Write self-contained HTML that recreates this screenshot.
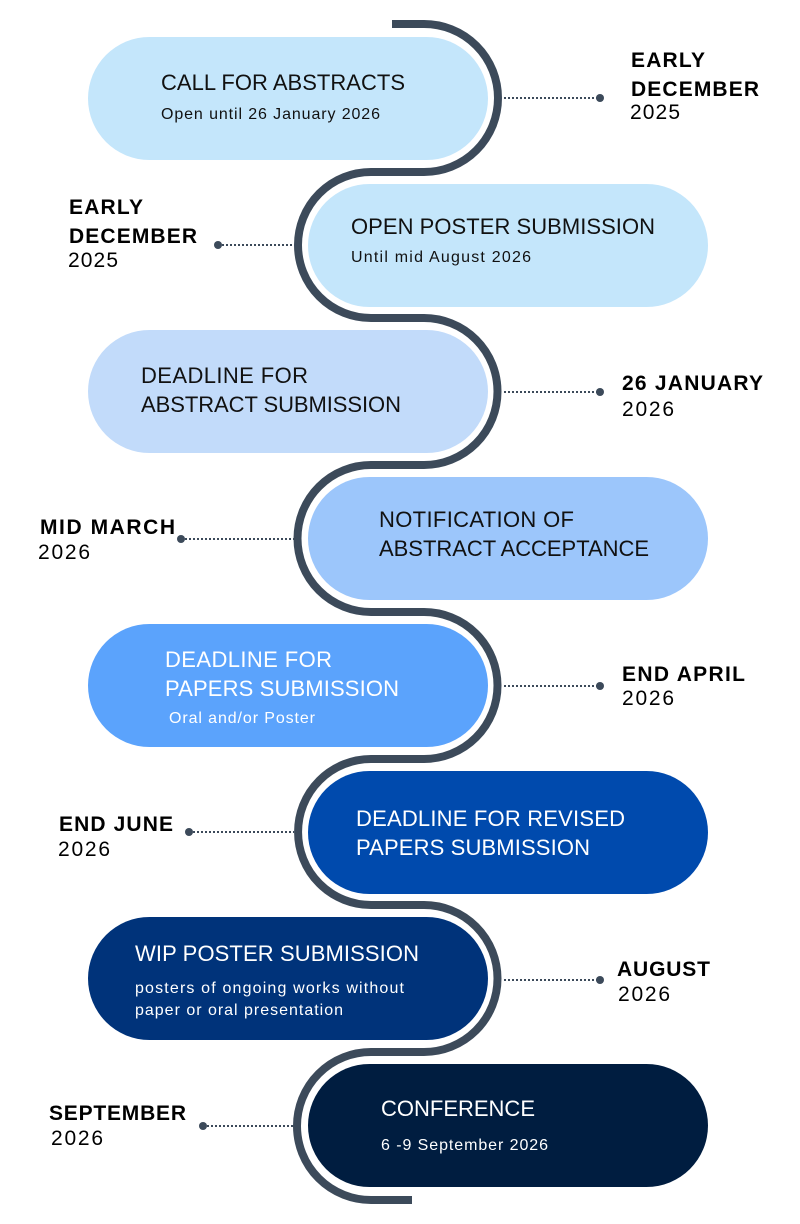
<!DOCTYPE html>
<html><head><meta charset="utf-8"><style>
html,body{margin:0;padding:0;background:#fff}
svg{display:block}
text{font-family:"Liberation Sans",sans-serif}
.t{font-size:22px}
.s{font-size:16px}
.b{font-size:21px;font-weight:bold;fill:#000}
.r{font-size:21px;fill:#000}
</style></head><body>
<svg width="800" height="1224" viewBox="0 0 800 1224" xmlns="http://www.w3.org/2000/svg">
<rect width="800" height="1224" fill="#fff"/>
<rect x="88" y="37" width="400" height="123" rx="61.5" fill="#c4e6fb"/>
<rect x="308" y="184" width="400" height="123" rx="61.5" fill="#c4e6fb"/>
<rect x="88" y="330" width="400" height="123" rx="61.5" fill="#c2dbfa"/>
<rect x="308" y="477" width="400" height="123" rx="61.5" fill="#9cc6fb"/>
<rect x="88" y="624" width="400" height="123" rx="61.5" fill="#5ba3fc"/>
<rect x="308" y="771" width="400" height="123" rx="61.5" fill="#004aad"/>
<rect x="88" y="917" width="400" height="123" rx="61.5" fill="#00337a"/>
<rect x="308" y="1064" width="400" height="123" rx="61.5" fill="#001d40"/>
<path d="M392,24 H424 A74,74 0 0 1 424,172 H371 A73,73 0 0 0 371,318 H424 A73.5,73.5 0 0 1 424,465 H371 A73.5,73.5 0 0 0 371,612 H424 A73.5,73.5 0 0 1 424,759 H371 A73,73 0 0 0 371,905 H424 A73.5,73.5 0 0 1 424,1052 H371 A74,74 0 0 0 371,1200 H412" fill="none" stroke="#3c4a5a" stroke-width="8"/>
<g stroke="#3c4a5a" stroke-width="2" stroke-dasharray="2,2">
<line x1="504" y1="98" x2="600" y2="98"/>
<line x1="218" y1="245" x2="294" y2="245"/>
<line x1="504" y1="392" x2="600" y2="392"/>
<line x1="181" y1="539" x2="294" y2="539"/>
<line x1="504" y1="686" x2="600" y2="686"/>
<line x1="189" y1="832" x2="294" y2="832"/>
<line x1="504" y1="980" x2="600" y2="980"/>
<line x1="203" y1="1126" x2="294" y2="1126"/>
</g>
<g fill="#3c4a5a">
<circle cx="600" cy="98" r="4"/><circle cx="218" cy="245" r="4"/>
<circle cx="600" cy="392" r="4"/><circle cx="181" cy="539" r="4"/>
<circle cx="600" cy="686" r="4"/><circle cx="189" cy="832" r="4"/>
<circle cx="600" cy="980" r="4"/><circle cx="203" cy="1126" r="4"/>
</g>
<g fill="#111">
<text class="t" x="161" y="90" textLength="244">CALL FOR ABSTRACTS</text>
<text class="s" x="161" y="119" textLength="219">Open until 26 January 2026</text>
<text class="t" x="351" y="234" textLength="304">OPEN POSTER SUBMISSION</text>
<text class="s" x="351" y="262" textLength="180">Until mid August 2026</text>
<text class="t" x="141" y="383" textLength="167">DEADLINE FOR</text>
<text class="t" x="141" y="412" textLength="260">ABSTRACT SUBMISSION</text>
<text class="t" x="379" y="527" textLength="195">NOTIFICATION OF</text>
<text class="t" x="379" y="556" textLength="270">ABSTRACT ACCEPTANCE</text>
</g>
<g fill="#fff">
<text class="t" x="165" y="667" textLength="167">DEADLINE FOR</text>
<text class="t" x="165" y="696" textLength="234">PAPERS SUBMISSION</text>
<text class="s" x="169" y="723" textLength="146">Oral and/or Poster</text>
<text class="t" x="356" y="826" textLength="269">DEADLINE FOR REVISED</text>
<text class="t" x="356" y="855" textLength="234">PAPERS SUBMISSION</text>
<text class="t" x="135" y="961" textLength="284">WIP POSTER SUBMISSION</text>
<text class="s" x="135" y="993" textLength="269">posters of ongoing works without</text>
<text class="s" x="135" y="1015" textLength="208">paper or oral presentation</text>
<text class="t" x="381" y="1116" textLength="154">CONFERENCE</text>
<text class="s" x="381" y="1150" textLength="167">6 -9 September 2026</text>
</g>
<text class="b" x="631" y="67" textLength="74">EARLY</text>
<text class="b" x="631" y="96" textLength="128">DECEMBER</text>
<text class="r" x="630" y="119" textLength="50">2025</text>
<text class="b" x="69" y="214" textLength="74">EARLY</text>
<text class="b" x="69" y="243" textLength="128">DECEMBER</text>
<text class="r" x="68" y="267" textLength="50">2025</text>
<text class="b" x="622" y="390" textLength="141">26 JANUARY</text>
<text class="r" x="622" y="416" textLength="52">2026</text>
<text class="b" x="40" y="534" textLength="135">MID MARCH</text>
<text class="r" x="38" y="559" textLength="52">2026</text>
<text class="b" x="622" y="681" textLength="123">END APRIL</text>
<text class="r" x="622" y="705" textLength="52">2026</text>
<text class="b" x="59" y="831" textLength="114">END JUNE</text>
<text class="r" x="58" y="856" textLength="52">2026</text>
<text class="b" x="617" y="976" textLength="93">AUGUST</text>
<text class="r" x="618" y="1001" textLength="52">2026</text>
<text class="b" x="49" y="1120" textLength="137">SEPTEMBER</text>
<text class="r" x="51" y="1145" textLength="52">2026</text>
</svg>
</body></html>
